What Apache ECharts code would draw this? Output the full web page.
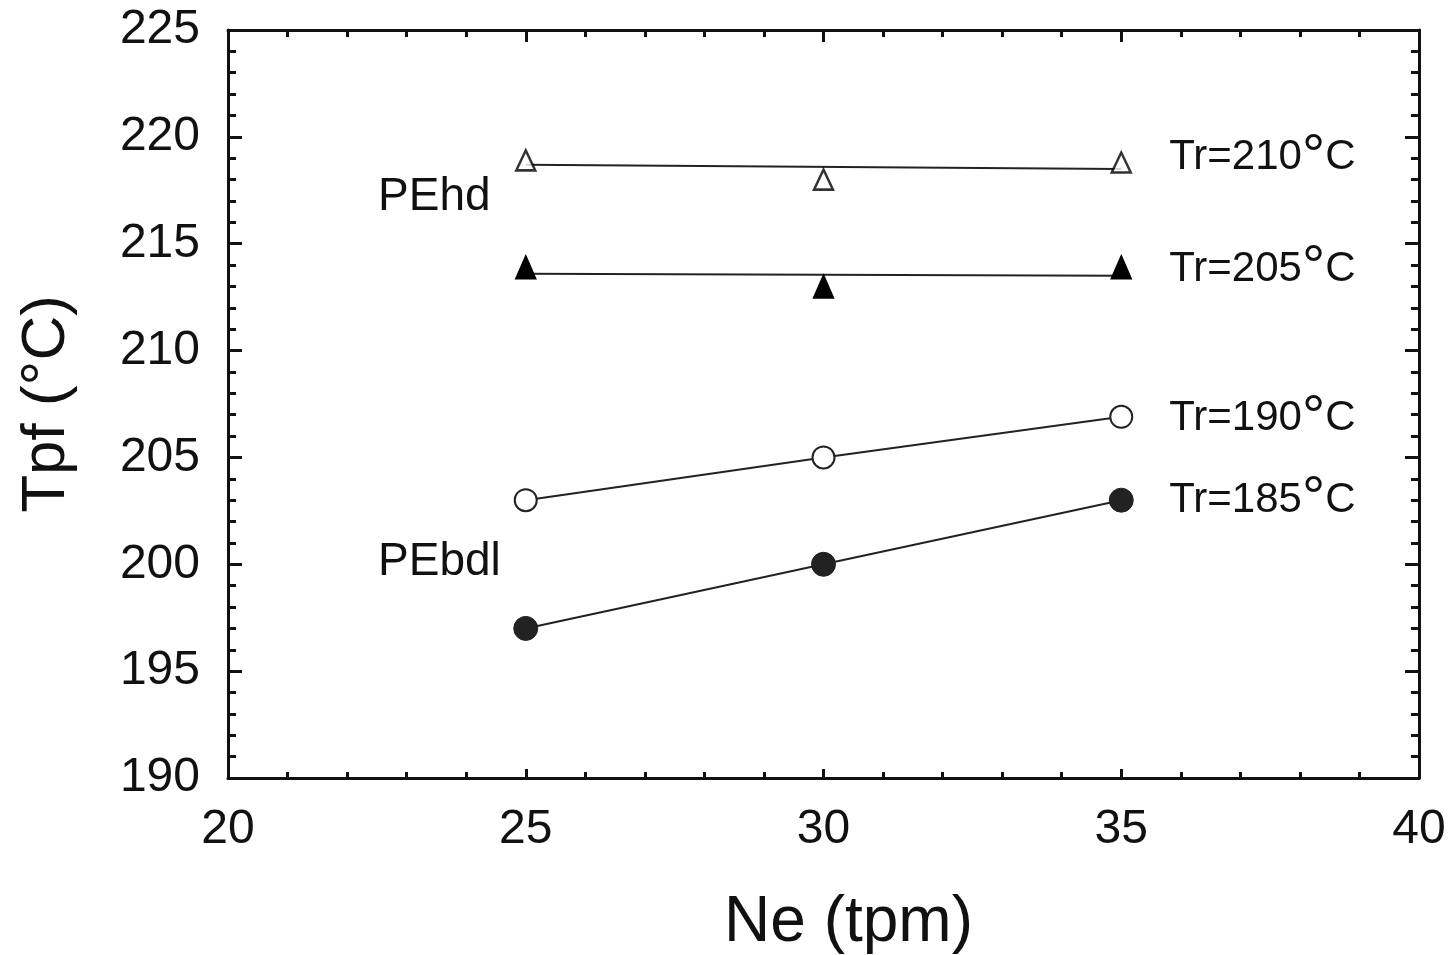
<!DOCTYPE html>
<html><head><meta charset="utf-8">
<script src="https://cdn.jsdelivr.net/npm/echarts@6/dist/echarts.min.js"></script>
<style>html,body{margin:0;padding:0;background:#fff}#c{width:1452px;height:955px}</style>
</head><body><div id="c"></div>
<script>
// Data
const xValues = [25, 30, 35];
const tr210 = [218.9, 218.0, 218.8];   // open triangles (PEhd)
const tr205 = [213.9, 213.0, 213.9];   // filled triangles (PEhd)
const tr190 = [203.0, 205.0, 206.9];   // open circles (PEbdl)
const tr185 = [197.0, 200.0, 203.0];   // filled circles (PEbdl)
const fit210 = [[25, 218.7], [35, 218.5]];
const fit205 = [[25, 213.6], [35, 213.5]];
const xTicks = [20, 25, 30, 35, 40];
const yTicks = [190, 195, 200, 205, 210, 215, 220, 225];
const seriesLabels = ['Tr=210', 'Tr=205', 'Tr=190', 'Tr=185'];
const groupLabels = ['PEhd', 'PEbdl'];

const pts = arr => xValues.map((x, i) => [x, arr[i]]);
const FONT = 'Liberation Sans';
const chart = echarts.init(document.getElementById('c'), null, {renderer: 'canvas'});

const axisCommon = {
  axisLine: {lineStyle: {color: '#111', width: 3}},
  splitLine: {show: false},
  axisTick: {inside: true, length: 14, lineStyle: {color: '#111', width: 3}},
  minorTick: {show: true, splitNumber: 5, length: 8, lineStyle: {color: '#111', width: 3}}
};

const option = {
  backgroundColor: '#ffffff',
  animation: false,
  grid: {left: 228, right: 33, top: 30, bottom: 177, show: false, containLabel: false, outerBoundsMode: 'none'},
  xAxis: [
    Object.assign({}, axisCommon, {
      type: 'value', position: 'bottom', min: xTicks[0], max: xTicks[xTicks.length - 1], interval: 5,
      axisTick: {inside: true, length: 9, lineStyle: {color: '#111', width: 3}},
      minorTick: {show: true, splitNumber: 5, length: 6, lineStyle: {color: '#111', width: 3}},
      axisLabel: {fontFamily: FONT, fontSize: 48, color: '#111', margin: 28},
      name: 'Ne (tpm)', nameLocation: 'middle', nameGap: 113,
      nameTextStyle: {fontFamily: FONT, fontSize: 64, color: '#111', padding: [0, 0, 0, 50]}
    }),
    Object.assign({}, axisCommon, {
      type: 'value', position: 'top', min: xTicks[0], max: xTicks[xTicks.length - 1], interval: 5,
      axisTick: {inside: true, length: 12, lineStyle: {color: '#111', width: 3}},
      minorTick: {show: true, splitNumber: 5, length: 7, lineStyle: {color: '#111', width: 3}},
      axisLabel: {show: false}
    })
  ],
  yAxis: [
    Object.assign({}, axisCommon, {
      type: 'value', position: 'left', min: yTicks[0], max: yTicks[yTicks.length - 1], interval: 5,
      axisLabel: {fontFamily: FONT, fontSize: 48, color: '#111', margin: 28},
      name: 'Tpf (°C)', nameLocation: 'middle', nameGap: 150, nameRotate: 90,
      nameTextStyle: {fontFamily: FONT, fontSize: 62, color: '#111'}
    }),
    Object.assign({}, axisCommon, {
      type: 'value', position: 'right', min: yTicks[0], max: yTicks[yTicks.length - 1], interval: 5,
      axisLabel: {show: false}
    })
  ],
  series: [
    {type: 'line', data: fit210, showSymbol: false, symbol: 'none', lineStyle: {color: '#222', width: 2}, z: 2},
    {type: 'line', data: fit205, showSymbol: false, symbol: 'none', lineStyle: {color: '#222', width: 2}, z: 2},
    {type: 'scatter', data: pts(tr210), symbol: 'triangle', symbolSize: [19, 20],
      itemStyle: {color: '#fff', borderColor: '#000', borderWidth: 2.5}, z: 3},
    {type: 'scatter', data: pts(tr205), symbol: 'triangle', symbolSize: [20, 23],
      itemStyle: {color: '#000', borderColor: '#000', borderWidth: 1.5, opacity: 1}, z: 3},
    {type: 'line', data: pts(tr190), symbol: 'circle', symbolSize: 22, showAllSymbol: true,
      lineStyle: {color: '#222', width: 2},
      itemStyle: {color: '#fff', borderColor: '#222', borderWidth: 2}, z: 3},
    {type: 'line', data: pts(tr185), symbol: 'circle', symbolSize: 24, showAllSymbol: true,
      lineStyle: {color: '#222', width: 2},
      itemStyle: {color: '#222', borderColor: '#222', borderWidth: 1}, z: 3}
  ]
};
chart.setOption(option);

// text annotations placed in data coordinates
function px(x, y) { return chart.convertToPixel({xAxisIndex: 0, yAxisIndex: 0}, [x, y]); }
const lastVals = [tr210[2], tr205[2], tr190[2], tr185[2]];
const labelOffsetY = [-5, 2, 2, 0];
const graphics = [];
seriesLabels.forEach((s, i) => {
  const p = px(35, lastVals[i]);
  graphics.push({
    type: 'text', x: p[0] + 48, y: p[1] + labelOffsetY[i],
    style: {
      text: '{a|' + s + '}{d|°}{a|C}',
      verticalAlign: 'middle', align: 'left',
      rich: {
        a: {fontFamily: FONT, fontSize: 42, fill: '#111', lineHeight: 50},
        d: {fontFamily: FONT, fontSize: 58, fill: '#111', lineHeight: 50}
      }
    }
  });
});
const gp = [px(22.52, 217.15), px(22.52, 200.1)];
groupLabels.forEach((g, i) => {
  graphics.push({
    type: 'text', x: gp[i][0], y: gp[i][1],
    style: {text: g, fontFamily: FONT, fontSize: 46, fill: '#111', verticalAlign: 'middle', align: 'left'}
  });
});
chart.setOption({graphic: graphics});
</script></body></html>
